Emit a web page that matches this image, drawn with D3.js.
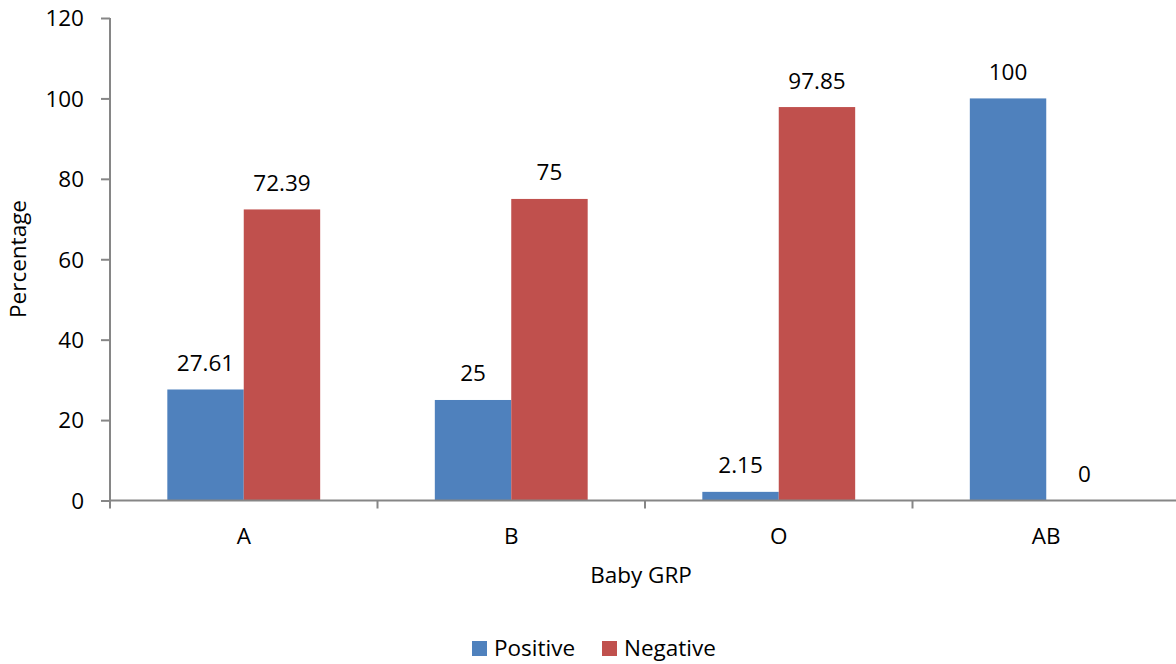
<!DOCTYPE html>
<html><head><meta charset="utf-8">
<script src="https://cdn.jsdelivr.net/npm/d3@7/dist/d3.min.js"></script>
<style>body{margin:0;background:#fff}svg{display:block}text{font-family:"Open Sans",Lato,sans-serif;fill:#000}</style>
</head><body>
<script>
const categories = ["A","B","O","AB"];
const seriesNames = ["Positive","Negative"];
const positive = [27.61,25,2.15,100];
const negative = [72.39,75,97.85,0];
const yTicks = [0,20,40,60,80,100,120];
const colors = ["#4F81BD","#C0504D"];

(function(){
const W=1176,H=664,FS=22.5;
const svg=d3.select("body").append("svg").attr("width",W).attr("height",H);
const mL=110,mR=1180,mT=18,mB=500.5;
const x=d3.scaleBand().domain(categories).range([mL,mR]).padding(0);
const bw=x.bandwidth()/3.5;
const xs=d3.scaleBand().domain(seriesNames).range([0.75*bw,0.75*bw+2*bw]).padding(0);
const y=d3.scaleLinear().domain([0,120]).range([mB,mT]);
const series=[positive,negative];

seriesNames.forEach((s,si)=>{
  svg.append("g").selectAll("rect").data(categories).join("rect")
    .attr("x",c=>x(c)+xs(s)).attr("width",xs.bandwidth())
    .attr("y",(c,i)=>y(series[si][i])).attr("height",(c,i)=>y(0)-y(series[si][i]))
    .attr("fill",colors[si]);
  svg.append("g").selectAll("text").data(categories).join("text")
    .attr("x",c=>x(c)+xs(s)+xs.bandwidth()/2)
    .attr("y",(c,i)=>y(series[si][i])-18.5)
    .attr("text-anchor","middle").attr("font-size",FS)
    .text((c,i)=>series[si][i]);
});

const ya=svg.append("g").attr("transform",`translate(${mL},0)`)
  .call(d3.axisLeft(y).tickValues(yTicks).tickSize(9).tickPadding(17));
ya.selectAll("text").attr("font-size",FS).attr("font-family","Open Sans").attr("dy","0.35em");
ya.select(".domain").attr("d",`M0,${mT}V${mB}`);
ya.selectAll("line,path").attr("stroke","#868686").attr("stroke-width",2);

const xa=svg.append("g").attr("transform",`translate(0,${mB})`);
xa.append("line").attr("x1",mL).attr("x2",mR).attr("stroke","#868686").attr("stroke-width",2);
xa.selectAll(".tk").data(categories.concat(["_end"])).join("line")
  .attr("x1",(c,i)=>mL+i*x.step()).attr("x2",(c,i)=>mL+i*x.step())
  .attr("y1",0).attr("y2",8).attr("stroke","#868686").attr("stroke-width",2);
xa.selectAll(".lb").data(categories).join("text")
  .attr("x",c=>x(c)+x.bandwidth()/2).attr("y",43.5)
  .attr("text-anchor","middle").attr("font-size",FS).text(c=>c);

svg.append("text").attr("x",641).attr("y",583).attr("text-anchor","middle").attr("font-size",FS).text("Baby GRP");
svg.append("text").attr("transform","translate(26,259) rotate(-90)").attr("text-anchor","middle").attr("font-size",FS).text("Percentage");

const lx=[472,602];
seriesNames.forEach((s,i)=>{
  svg.append("rect").attr("x",lx[i]).attr("y",641).attr("width",15).attr("height",15).attr("fill",colors[i]);
  svg.append("text").attr("x",lx[i]+22).attr("y",656).attr("font-size",FS).text(s);
});
})();
</script>
</body></html>
